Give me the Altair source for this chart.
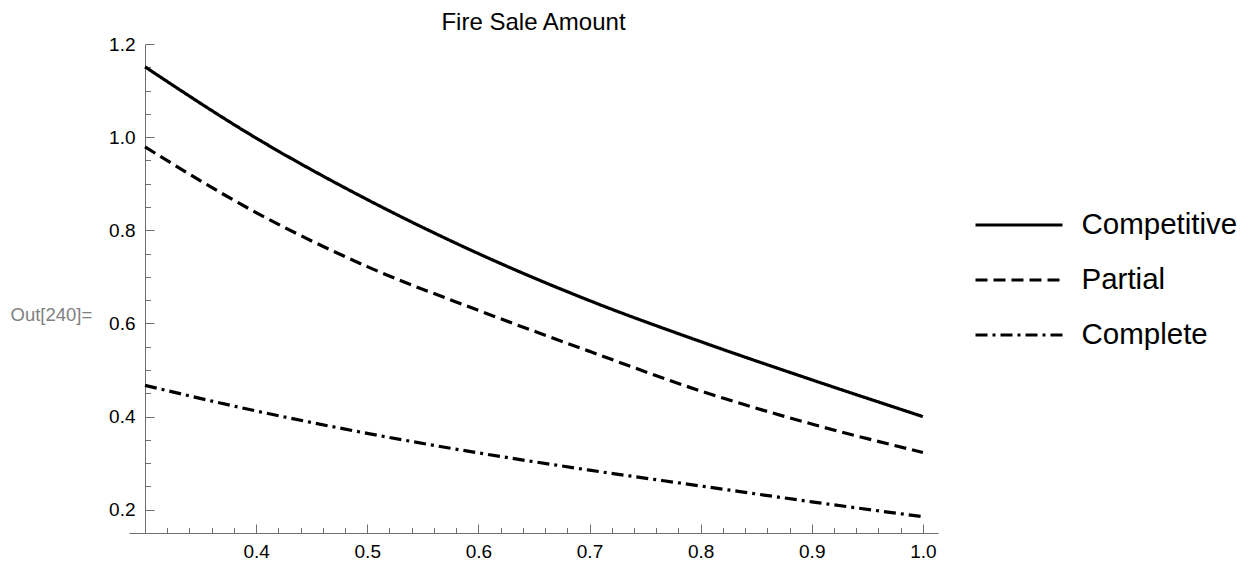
import altair as alt
import pandas as pd

# ---- data ----
x_vals = [0.3, 0.4, 0.5, 0.6, 0.7, 0.8, 0.9, 1.0]
competitive = [1.151, 0.998, 0.866, 0.750, 0.649, 0.561, 0.479, 0.400]
partial = [0.979, 0.838, 0.722, 0.628, 0.540, 0.455, 0.384, 0.323]
complete = [0.467, 0.412, 0.364, 0.322, 0.285, 0.251, 0.217, 0.185]
series = ["Competitive", "Partial", "Complete"]

x_major = [0.4, 0.5, 0.6, 0.7, 0.8, 0.9, 1.0]
x_minor = [round(0.3 + 0.02 * i, 2) for i in range(1, 35) if i % 5 != 0]
y_major = [0.2, 0.4, 0.6, 0.8, 1.0, 1.2]
y_minor = [0.25, 0.3, 0.35, 0.45, 0.5, 0.55, 0.65, 0.7, 0.75, 0.85, 0.9, 0.95, 1.05, 1.1, 1.15]

# ---- layout / style ----
W, H = 809, 489
X_DOMAIN = [0.2856, 1.0136]
Y_DOMAIN = [0.15, 1.2]
Y_AXIS_SHIFT = 16  # y axis sits at x = 0.3
GRAY = "#6e6e6e"
FONT = "Liberation Sans"

rows = []
for name, vals in zip(series, [competitive, partial, complete]):
    for xv, yv in zip(x_vals, vals):
        rows.append({"x": xv, "y": yv, "series": name})
df = pd.DataFrame(rows)

xs = alt.Scale(domain=X_DOMAIN, nice=False, zero=False)
ys = alt.Scale(domain=Y_DOMAIN, nice=False, zero=False)

lines = alt.Chart(df).mark_line(color="black", strokeWidth=3.2, interpolate="monotone").encode(
    x=alt.X("x:Q", scale=xs, axis=alt.Axis(
        orient="bottom", values=x_major, format=".1f", ticks=False, tickSize=0,
        domainColor=GRAY, domainWidth=1, labelFontSize=19, labelPadding=9,
        labelColor="black", labelFont=FONT, grid=False, title=None, labelFlush=False)),
    y=alt.Y("y:Q", scale=ys, axis=alt.Axis(
        orient="left", offset=-Y_AXIS_SHIFT, values=y_major, format=".1f", ticks=False, tickSize=0,
        domainColor=GRAY, domainWidth=1, labelFontSize=19, labelPadding=10,
        labelColor="black", labelFont=FONT, grid=False,
        title="Out[240]=", titleAngle=0, titleX=-135, titleY=270, titleAlign="left",
        titleBaseline="middle", titleColor="#808080", titleFontSize=18.5,
        titleFontWeight="normal", titleFont=FONT)),
    strokeDash=alt.StrokeDash("series:N", sort=series,
        scale=alt.Scale(domain=series, range=[[1, 0], [12, 6], [12, 5, 3, 5]]),
        legend=alt.Legend(orient="none", legendX=844.5, legendY=154.5, title=None,
                          symbolType="stroke", symbolSize=7569, symbolStrokeWidth=3.2,
                          symbolStrokeColor="black", labelFontSize=29.5, labelFont=FONT,
                          labelColor="black", labelOffset=17, clipHeight=53, rowPadding=2,
                          padding=0, labelLimit=400)),
)


def tick_layer(xv, yv, size):
    return alt.Chart(df).mark_point(opacity=0).encode(
        x=alt.X("x:Q", scale=xs, axis=alt.Axis(
            orient="top", offset=-H, values=xv, tickSize=size, tickColor=GRAY, tickWidth=1,
            labels=False, domain=False, grid=False, title=None)),
        y=alt.Y("y:Q", scale=ys, axis=alt.Axis(
            orient="right", offset=-(W - Y_AXIS_SHIFT), values=yv, tickSize=size, tickColor=GRAY,
            tickWidth=1, labels=False, domain=False, grid=False, title=None)),
    )


major = tick_layer(x_major, y_major, 9)
minor = tick_layer(x_minor, y_minor, 5.5)

chart = alt.layer(lines, major, minor).resolve_axis(
    x="independent", y="independent"
).properties(
    width=W, height=H, background="white",
    title=alt.Title("Fire Sale Amount", fontSize=24, font=FONT, fontWeight="normal",
                    color="black", anchor="middle", frame="group", offset=2, dy=2),
    autosize=alt.AutoSizeParams(type="none"),
    padding={"left": 121, "top": 36, "right": 300, "bottom": 30},
).configure_view(strokeWidth=0, stroke="transparent")

chart.save("out.html", embed_options={"renderer": "svg", "actions": False})
